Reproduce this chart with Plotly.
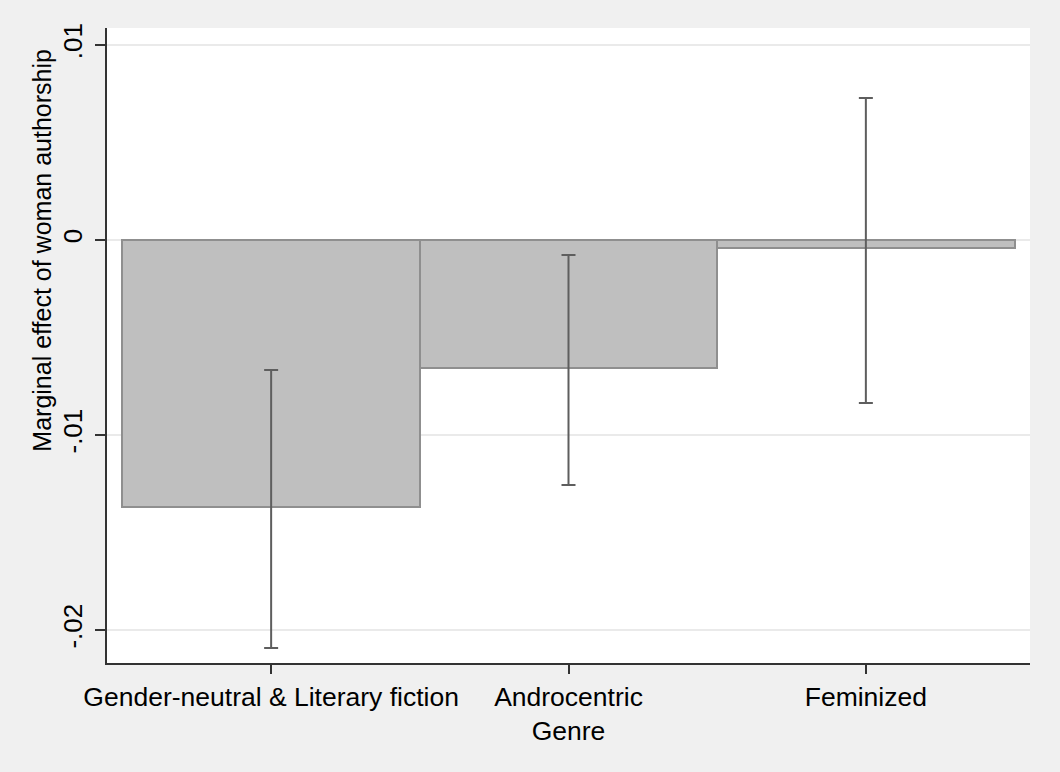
import plotly.graph_objects as go

categories = ["Gender-neutral & Literary fiction", "Androcentric<br>Genre", "Feminized"]
effects = [-0.01369, -0.00656, -0.00042]
ci_lower = [-0.02092, -0.01256, -0.00836]
ci_upper = [-0.00667, -0.00077, 0.00728]
ytick_vals = [-0.02, -0.01, 0, 0.01]
ytick_text = ["-.02", "-.01", "0", ".01"]

x_pos = list(range(len(categories)))
err_plus = [u - e for u, e in zip(ci_upper, effects)]
err_minus = [e - l for e, l in zip(effects, ci_lower)]

FONT = "Liberation Sans, Arial, Helvetica, sans-serif"

fig = go.Figure()
fig.add_trace(go.Bar(
    x=x_pos, y=effects, width=1.0,
    marker=dict(color="#bfbfbf", line=dict(color="#8f8f8f", width=2)),
    error_y=dict(type="data", symmetric=False, array=err_plus, arrayminus=err_minus,
                 color="#5e5e5e", thickness=2, width=7),
    showlegend=False,
))

fig.update_layout(
    width=1060, height=772,
    margin=dict(l=107, r=30, t=28, b=109, pad=0),
    paper_bgcolor="#f0f0f0",
    plot_bgcolor="#ffffff",
    font=dict(family=FONT, size=26, color="#000000"),
    bargap=0,
    xaxis=dict(
        range=[-0.552, 2.552],
        tickmode="array", tickvals=x_pos, ticktext=categories,
        showgrid=False, zeroline=False,
        showline=True, linecolor="#333333", linewidth=2,
        ticks="outside", ticklen=9, tickwidth=1.5, tickcolor="#333333",
        tickfont=dict(family=FONT, size=26.5, color="#000000"),
    ),
    yaxis=dict(
        range=[-0.02169, 0.01087],
        tickmode="array", tickvals=ytick_vals, ticktext=ytick_text,
        showgrid=True, gridcolor="#eaeaea", gridwidth=2,
        zeroline=False,
        showline=True, linecolor="#333333", linewidth=2,
        ticks="outside", ticklen=10, tickwidth=1.5, tickcolor="#333333",
        tickangle=-90, ticklabelstandoff=3,
        tickfont=dict(family=FONT, size=26, color="#000000"),
    ),
    annotations=[dict(
        text="Marginal effect of woman authorship",
        xref="paper", yref="paper", x=-0.070, y=0.65,
        xanchor="center", yanchor="middle", textangle=-90, showarrow=False,
        font=dict(family=FONT, size=25, color="#000000"),
    )],
)

fig.write_html("out.html")
